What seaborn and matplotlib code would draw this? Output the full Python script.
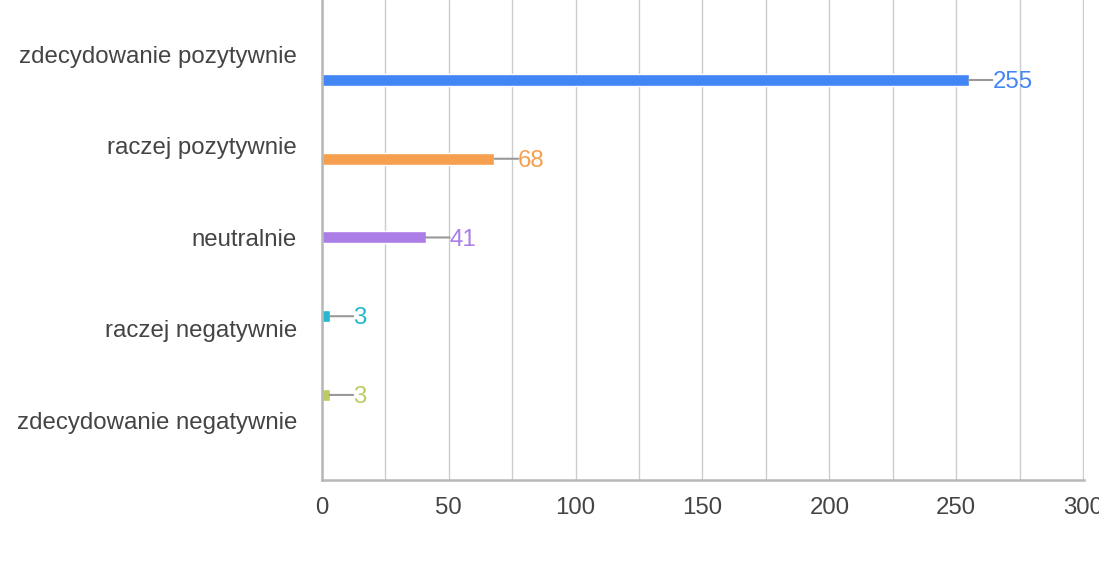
import numpy as np
import pandas as pd
import seaborn as sns
import matplotlib.pyplot as plt

categories = ["zdecydowanie pozytywnie", "raczej pozytywnie", "neutralnie",
              "raczej negatywnie", "zdecydowanie negatywnie"]
counts = [255, 68, 41, 3, 3]
colors = ["#4285F4", "#F6A04F", "#AB7DE6", "#24B7CE", "#BECB62"]
x_ticks = [0, 50, 100, 150, 200, 250, 300]

sns.set_theme(style="white")
plt.rcParams["font.family"] = ["Liberation Sans", "DejaVu Sans"]

df = pd.DataFrame({"category": categories, "count": counts})

fig = plt.figure(figsize=(10.99, 5.70), dpi=100)
ax = fig.add_axes([322 / 1099, 1 - 480 / 570, (1084 - 322) / 1099, 480 / 570])

sns.barplot(data=df, x="count", y="category", hue="category", palette=colors,
            order=categories, hue_order=categories, width=0.152,
            legend=False, ax=ax, saturation=1)

# gridlines every 25
ax.set_xlim(0, 300.4)
ax.set_xticks(np.arange(0, 301, 25), minor=True)
ax.set_xticks(x_ticks, [str(t) for t in x_ticks])
ax.grid(True, axis="x", which="both", color="#cccccc", linewidth=1)
ax.set_axisbelow(True)

# category labels sit on their own spacing, a bit off the bars
ax.set_ylim(5.08, -1.016)
ax.set_yticks(np.linspace(-0.33, 4.32, 5), categories)

ax.tick_params(axis="x", length=0, pad=12, labelsize=17.3, labelcolor="#444444")
ax.tick_params(axis="y", length=0, pad=18, labelsize=17.3, labelcolor="#444444")
ax.set_xlabel("")
ax.set_ylabel("")

for side in ["top", "right"]:
    ax.spines[side].set_visible(False)
for side in ["left", "bottom"]:
    ax.spines[side].set_color("#b7b7b7")
    ax.spines[side].set_linewidth(1.8)

for i, (v, c) in enumerate(zip(counts, colors)):
    # connector line from bar end to the value label
    ax.annotate("", xy=(v, i), xytext=(17, 0), textcoords="offset points",
                arrowprops=dict(arrowstyle="-", color="#999999", lw=1.5,
                                shrinkA=0, shrinkB=0))
    ax.annotate(str(v), xy=(v, i), xytext=(17, -1.5), textcoords="offset points",
                ha="left", va="center", color=c, fontsize=17.3)

fig.savefig("out.png", dpi=100)
